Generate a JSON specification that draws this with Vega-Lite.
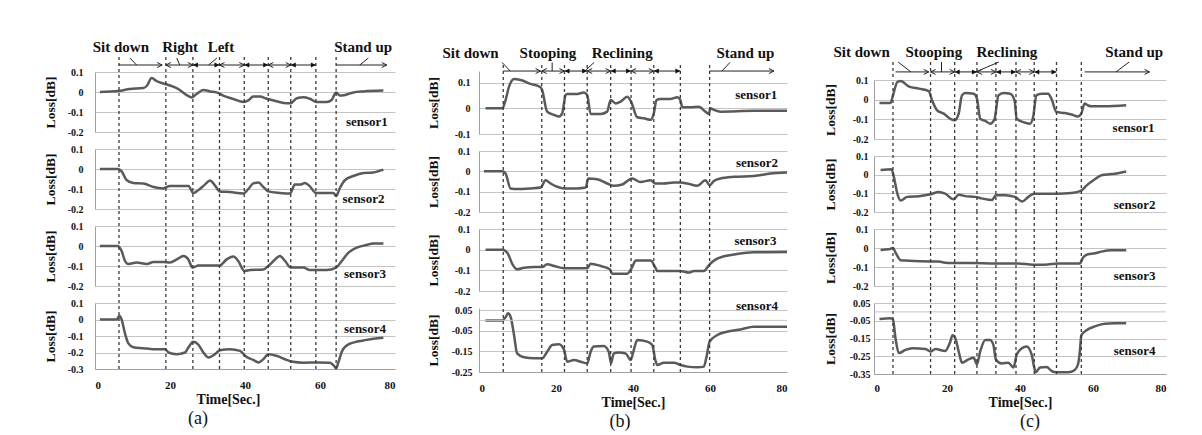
{
"$schema": "https://vega.github.io/schema/vega-lite/v6.json",
"background": "white",
"padding": {"left": 43, "top": 30, "right": 0, "bottom": 0},
"config": {
 "font": "Liberation Serif",
 "view": {"stroke": null},
 "axis": {"labelFont": "Liberation Serif", "labelFontWeight": "bold", "labelFontSize": 10, "labelColor": "#111", "titleFont": "Liberation Serif", "titleFontWeight": "bold", "titleFontSize": 13.5, "titleColor": "#111", "ticks": false, "gridColor": "#c4c4c4", "gridWidth": 1, "gridOpacity": 1, "domainColor": "#a0a0a0", "domainWidth": 1, "labelOverlap": false},
 "axisY": {"grid": true},
 "title": {"font": "Liberation Serif", "color": "#111"}
},
"datasets": {
 "a1": [{"t":1.3,"v":0},{"t":6.2,"v":0.005},{"t":9.3,"v":0.015},{"t":12.9,"v":0.02},{"t":13.8,"v":0.03},{"t":15.1,"v":0.07},{"t":16.4,"v":0.055},{"t":18.7,"v":0.04},{"t":20.4,"v":0.03},{"t":22.2,"v":0.015},{"t":24,"v":-0.01},{"t":25.8,"v":-0.027},{"t":27.1,"v":-0.01},{"t":28.9,"v":0.01},{"t":30.7,"v":0.003},{"t":32.4,"v":-0.002},{"t":34.2,"v":-0.018},{"t":36.9,"v":-0.035},{"t":39.6,"v":-0.05},{"t":40.9,"v":-0.042},{"t":42.2,"v":-0.023},{"t":44,"v":-0.023},{"t":45.8,"v":-0.034},{"t":48.4,"v":-0.046},{"t":51.1,"v":-0.056},{"t":52.2,"v":-0.056},{"t":53.8,"v":-0.031},{"t":55.6,"v":-0.026},{"t":57.3,"v":-0.034},{"t":59.1,"v":-0.05},{"t":61.8,"v":-0.05},{"t":63.1,"v":-0.04},{"t":64.3,"v":-0.002},{"t":65.3,"v":-0.018},{"t":66.7,"v":-0.015},{"t":68.9,"v":-0.002},{"t":71.6,"v":0.003},{"t":76.9,"v":0.007}],
 "a2": [{"t":1.3,"v":0},{"t":6.2,"v":0},{"t":7.1,"v":-0.012},{"t":8.4,"v":-0.055},{"t":10.2,"v":-0.07},{"t":12.9,"v":-0.073},{"t":15.6,"v":-0.09},{"t":18.2,"v":-0.097},{"t":20,"v":-0.085},{"t":22.2,"v":-0.085},{"t":24.9,"v":-0.085},{"t":26.2,"v":-0.12},{"t":27.6,"v":-0.105},{"t":29.3,"v":-0.078},{"t":30.7,"v":-0.057},{"t":32,"v":-0.083},{"t":33.3,"v":-0.112},{"t":36,"v":-0.115},{"t":39.6,"v":-0.122},{"t":40.9,"v":-0.1},{"t":42.2,"v":-0.072},{"t":43.6,"v":-0.068},{"t":44.9,"v":-0.09},{"t":46.2,"v":-0.112},{"t":49.3,"v":-0.12},{"t":52,"v":-0.123},{"t":53.3,"v":-0.078},{"t":54.7,"v":-0.078},{"t":56,"v":-0.07},{"t":57.3,"v":-0.087},{"t":58.9,"v":-0.12},{"t":61.8,"v":-0.12},{"t":63.6,"v":-0.12},{"t":64.3,"v":-0.135},{"t":65.3,"v":-0.095},{"t":66.7,"v":-0.055},{"t":68.9,"v":-0.035},{"t":71.6,"v":-0.02},{"t":74.2,"v":-0.017},{"t":76.9,"v":-0.003}],
 "a3": [{"t":1.3,"v":0},{"t":6,"v":0},{"t":7.1,"v":-0.025},{"t":8,"v":-0.075},{"t":8.9,"v":-0.09},{"t":11.1,"v":-0.083},{"t":13.8,"v":-0.09},{"t":15.6,"v":-0.08},{"t":18.2,"v":-0.08},{"t":20,"v":-0.083},{"t":21.8,"v":-0.067},{"t":23.6,"v":-0.05},{"t":24.9,"v":-0.067},{"t":26,"v":-0.108},{"t":27.6,"v":-0.097},{"t":30.7,"v":-0.097},{"t":33.3,"v":-0.097},{"t":35.1,"v":-0.067},{"t":36.9,"v":-0.053},{"t":38.2,"v":-0.075},{"t":39.8,"v":-0.125},{"t":41.3,"v":-0.12},{"t":44.9,"v":-0.117},{"t":46.2,"v":-0.1},{"t":47.6,"v":-0.075},{"t":49.3,"v":-0.05},{"t":50.7,"v":-0.075},{"t":52.2,"v":-0.108},{"t":55.6,"v":-0.108},{"t":57.3,"v":-0.12},{"t":61.8,"v":-0.12},{"t":64.3,"v":-0.108},{"t":65.8,"v":-0.075},{"t":67.6,"v":-0.033},{"t":69.8,"v":-0.008},{"t":72.4,"v":0.005},{"t":74.2,"v":0.013},{"t":76.9,"v":0.013}],
 "a4": [{"t":1.3,"v":0},{"t":5.8,"v":0},{"t":6.5,"v":0.023},{"t":7.1,"v":0},{"t":8,"v":-0.085},{"t":8.9,"v":-0.145},{"t":10.2,"v":-0.168},{"t":12.9,"v":-0.174},{"t":15.6,"v":-0.18},{"t":18.7,"v":-0.18},{"t":19.6,"v":-0.2},{"t":21.8,"v":-0.21},{"t":24,"v":-0.2},{"t":24.9,"v":-0.17},{"t":26.2,"v":-0.135},{"t":27.6,"v":-0.153},{"t":28.9,"v":-0.2},{"t":30.2,"v":-0.23},{"t":32,"v":-0.21},{"t":33.3,"v":-0.186},{"t":36,"v":-0.18},{"t":38.7,"v":-0.19},{"t":40,"v":-0.22},{"t":42.2,"v":-0.245},{"t":43.6,"v":-0.26},{"t":44.9,"v":-0.24},{"t":46.2,"v":-0.21},{"t":48.4,"v":-0.22},{"t":51.1,"v":-0.245},{"t":52.4,"v":-0.255},{"t":55.6,"v":-0.262},{"t":59.1,"v":-0.26},{"t":62.7,"v":-0.262},{"t":63.7,"v":-0.28},{"t":64.3,"v":-0.295},{"t":64.9,"v":-0.26},{"t":65.8,"v":-0.195},{"t":67.1,"v":-0.157},{"t":69.3,"v":-0.137},{"t":71.6,"v":-0.127},{"t":74.2,"v":-0.116},{"t":76.9,"v":-0.11}],
 "b1": [{"t":1.7,"v":0},{"t":6.1,"v":0},{"t":6.9,"v":0.032},{"t":7.8,"v":0.084},{"t":9.1,"v":0.114},{"t":10.8,"v":0.11},{"t":13.4,"v":0.095},{"t":16,"v":0.082},{"t":16.4,"v":0.071},{"t":17.7,"v":-0.013},{"t":19.5,"v":-0.026},{"t":20.8,"v":-0.032},{"t":21.6,"v":-0.02},{"t":22.5,"v":0.052},{"t":22.9,"v":0.056},{"t":25.5,"v":0.056},{"t":27.2,"v":0.061},{"t":28.1,"v":0.052},{"t":29,"v":-0.022},{"t":31.6,"v":-0.022},{"t":33.3,"v":-0.013},{"t":34.2,"v":0.032},{"t":35.5,"v":0.019},{"t":36.8,"v":0.026},{"t":38.5,"v":0.045},{"t":39.5,"v":0.026},{"t":41.1,"v":-0.035},{"t":42.8,"v":-0.039},{"t":44.6,"v":-0.045},{"t":45.4,"v":-0.02},{"t":46.1,"v":0.032},{"t":47.1,"v":0.036},{"t":49.7,"v":0.036},{"t":51.5,"v":0.043},{"t":52.3,"v":0.032},{"t":52.8,"v":0.004},{"t":54.9,"v":0.004},{"t":57.1,"v":0.006},{"t":58.8,"v":-0.013},{"t":59.7,"v":-0.022},{"t":60.1,"v":0},{"t":61,"v":-0.006},{"t":62.7,"v":-0.013},{"t":71.4,"v":-0.01},{"t":80,"v":-0.01}],
 "b2": [{"t":1.3,"v":0},{"t":6.1,"v":0},{"t":6.9,"v":-0.011},{"t":8.2,"v":-0.084},{"t":9.9,"v":-0.087},{"t":13.4,"v":-0.084},{"t":16,"v":-0.08},{"t":17.3,"v":-0.044},{"t":18.6,"v":-0.06},{"t":20.3,"v":-0.076},{"t":22.1,"v":-0.084},{"t":25.5,"v":-0.084},{"t":27.7,"v":-0.08},{"t":28.4,"v":-0.035},{"t":30.7,"v":-0.039},{"t":33.3,"v":-0.06},{"t":35,"v":-0.071},{"t":37.2,"v":-0.065},{"t":39.8,"v":-0.035},{"t":41.9,"v":-0.052},{"t":44.6,"v":-0.044},{"t":45.8,"v":-0.06},{"t":48,"v":-0.06},{"t":50.6,"v":-0.055},{"t":52.3,"v":-0.055},{"t":54.1,"v":-0.06},{"t":56.7,"v":-0.071},{"t":58.8,"v":-0.044},{"t":59.9,"v":-0.068},{"t":61,"v":-0.048},{"t":62.7,"v":-0.035},{"t":66.2,"v":-0.027},{"t":71.4,"v":-0.023},{"t":75.7,"v":-0.011},{"t":80,"v":-0.006}],
 "b3": [{"t":1.7,"v":0},{"t":6.1,"v":0},{"t":7.4,"v":-0.016},{"t":8.7,"v":-0.071},{"t":9.9,"v":-0.095},{"t":11.7,"v":-0.087},{"t":14.3,"v":-0.084},{"t":16.4,"v":-0.084},{"t":17.7,"v":-0.071},{"t":19.5,"v":-0.079},{"t":22.1,"v":-0.09},{"t":25.5,"v":-0.09},{"t":28.1,"v":-0.09},{"t":29,"v":-0.068},{"t":31.6,"v":-0.079},{"t":34,"v":-0.095},{"t":34.6,"v":-0.116},{"t":38.5,"v":-0.116},{"t":39.8,"v":-0.084},{"t":40.7,"v":-0.052},{"t":44.6,"v":-0.052},{"t":45.8,"v":-0.087},{"t":46.3,"v":-0.103},{"t":49.7,"v":-0.103},{"t":52.3,"v":-0.103},{"t":54.5,"v":-0.111},{"t":55.8,"v":-0.103},{"t":58.4,"v":-0.103},{"t":59.9,"v":-0.071},{"t":61.4,"v":-0.048},{"t":63.6,"v":-0.032},{"t":67,"v":-0.021},{"t":71.4,"v":-0.013},{"t":80,"v":-0.011}],
 "b4": [{"t":1.7,"v":0},{"t":6.1,"v":0},{"t":6.9,"v":0.015},{"t":7.5,"v":0.034},{"t":8.2,"v":0.018},{"t":9.1,"v":-0.071},{"t":9.9,"v":-0.16},{"t":11.7,"v":-0.179},{"t":14.3,"v":-0.184},{"t":16.4,"v":-0.184},{"t":17.7,"v":-0.152},{"t":19,"v":-0.119},{"t":20.8,"v":-0.116},{"t":22.1,"v":-0.144},{"t":22.9,"v":-0.2},{"t":24.7,"v":-0.192},{"t":26.4,"v":-0.2},{"t":28.1,"v":-0.208},{"t":29,"v":-0.152},{"t":29.8,"v":-0.127},{"t":32.4,"v":-0.124},{"t":33.7,"v":-0.152},{"t":34.3,"v":-0.208},{"t":35,"v":-0.16},{"t":36.3,"v":-0.156},{"t":38.1,"v":-0.16},{"t":39.4,"v":-0.192},{"t":40.2,"v":-0.144},{"t":41.1,"v":-0.095},{"t":43.7,"v":-0.103},{"t":45,"v":-0.119},{"t":45.8,"v":-0.192},{"t":46.3,"v":-0.216},{"t":48,"v":-0.205},{"t":50.6,"v":-0.205},{"t":52.3,"v":-0.216},{"t":54.1,"v":-0.224},{"t":56.7,"v":-0.227},{"t":58.4,"v":-0.224},{"t":59.1,"v":-0.176},{"t":59.9,"v":-0.103},{"t":61.9,"v":-0.071},{"t":64.4,"v":-0.055},{"t":67.9,"v":-0.044},{"t":71.4,"v":-0.031},{"t":80,"v":-0.031}],
 "c1": [{"t":1.5,"v":-0.017},{"t":4.5,"v":-0.017},{"t":5.2,"v":0.022},{"t":6.4,"v":0.09},{"t":7.3,"v":0.095},{"t":9.5,"v":0.068},{"t":12.3,"v":0.056},{"t":15,"v":0.044},{"t":15.9,"v":-0.003},{"t":17.3,"v":-0.054},{"t":19.1,"v":-0.071},{"t":20.9,"v":-0.097},{"t":22.1,"v":-0.105},{"t":23.2,"v":-0.071},{"t":24.1,"v":0.022},{"t":25,"v":0.034},{"t":27.3,"v":0.03},{"t":28.2,"v":0.005},{"t":29.1,"v":-0.097},{"t":30.5,"v":-0.108},{"t":31.8,"v":-0.122},{"t":33,"v":-0.1},{"t":34.1,"v":0.022},{"t":35.5,"v":0.034},{"t":37.3,"v":0.03},{"t":38.5,"v":-0.003},{"t":39.1,"v":-0.097},{"t":40.9,"v":-0.114},{"t":42.7,"v":-0.122},{"t":43.6,"v":-0.088},{"t":44.5,"v":0.022},{"t":45.9,"v":0.03},{"t":47.7,"v":0.03},{"t":48.6,"v":0.005},{"t":50,"v":-0.063},{"t":52.3,"v":-0.068},{"t":54.1,"v":-0.075},{"t":55.9,"v":-0.085},{"t":56.8,"v":-0.071},{"t":57.7,"v":-0.02},{"t":58.6,"v":-0.029},{"t":59.5,"v":-0.034},{"t":63.2,"v":-0.034},{"t":69.1,"v":-0.029}],
 "c2": [{"t":1.8,"v":0.025},{"t":4.8,"v":0.029},{"t":5.5,"v":-0.017},{"t":6.4,"v":-0.102},{"t":7.3,"v":-0.139},{"t":9.1,"v":-0.119},{"t":12.3,"v":-0.115},{"t":15.5,"v":-0.105},{"t":17.7,"v":-0.093},{"t":19.5,"v":-0.102},{"t":21.8,"v":-0.132},{"t":23.2,"v":-0.107},{"t":25,"v":-0.115},{"t":27.7,"v":-0.119},{"t":29.5,"v":-0.127},{"t":32.3,"v":-0.136},{"t":33.4,"v":-0.11},{"t":35.9,"v":-0.11},{"t":38.6,"v":-0.119},{"t":40.6,"v":-0.144},{"t":42.3,"v":-0.119},{"t":43.9,"v":-0.102},{"t":46.8,"v":-0.102},{"t":50,"v":-0.102},{"t":54.1,"v":-0.098},{"t":56.8,"v":-0.085},{"t":58.2,"v":-0.059},{"t":60.5,"v":-0.025},{"t":62.3,"v":-0.003},{"t":65,"v":0.003},{"t":66.8,"v":0.008},{"t":69.1,"v":0.017}],
 "c3": [{"t":1.8,"v":-0.01},{"t":4.1,"v":-0.007},{"t":5.2,"v":0},{"t":5.9,"v":-0.024},{"t":7.3,"v":-0.064},{"t":9.5,"v":-0.067},{"t":15.5,"v":-0.071},{"t":17.7,"v":-0.071},{"t":19.1,"v":-0.076},{"t":21.4,"v":-0.079},{"t":26.8,"v":-0.079},{"t":33.2,"v":-0.081},{"t":39.5,"v":-0.081},{"t":43.6,"v":-0.088},{"t":46.8,"v":-0.088},{"t":50.5,"v":-0.081},{"t":54.1,"v":-0.081},{"t":56.4,"v":-0.081},{"t":57.3,"v":-0.05},{"t":58.6,"v":-0.033},{"t":60.5,"v":-0.028},{"t":62.3,"v":-0.019},{"t":65,"v":-0.012},{"t":69.1,"v":-0.012}],
 "c4": [{"t":1.5,"v":-0.04},{"t":4.5,"v":-0.036},{"t":5.2,"v":-0.044},{"t":5.9,"v":-0.15},{"t":6.8,"v":-0.232},{"t":8.6,"v":-0.214},{"t":10.5,"v":-0.205},{"t":14.1,"v":-0.209},{"t":15.5,"v":-0.223},{"t":16.8,"v":-0.209},{"t":19.5,"v":-0.22},{"t":20.9,"v":-0.168},{"t":21.5,"v":-0.132},{"t":22.3,"v":-0.15},{"t":23.2,"v":-0.223},{"t":24.1,"v":-0.286},{"t":25.9,"v":-0.268},{"t":27.3,"v":-0.259},{"t":28.2,"v":-0.295},{"t":29.1,"v":-0.223},{"t":30.5,"v":-0.159},{"t":31.8,"v":-0.159},{"t":32.7,"v":-0.186},{"t":33.4,"v":-0.268},{"t":35,"v":-0.291},{"t":36.8,"v":-0.286},{"t":38.2,"v":-0.313},{"t":39.1,"v":-0.241},{"t":40.5,"v":-0.205},{"t":41.8,"v":-0.195},{"t":43.2,"v":-0.241},{"t":43.9,"v":-0.313},{"t":44.3,"v":-0.34},{"t":45.5,"v":-0.313},{"t":47.3,"v":-0.31},{"t":48.6,"v":-0.332},{"t":50,"v":-0.34},{"t":53.2,"v":-0.34},{"t":55,"v":-0.327},{"t":55.9,"v":-0.295},{"t":56.4,"v":-0.223},{"t":56.8,"v":-0.132},{"t":58.2,"v":-0.104},{"t":60.5,"v":-0.082},{"t":63.2,"v":-0.067},{"t":65.9,"v":-0.064},{"t":69.1,"v":-0.064}],
 "ev_a": [{"t":6.4},{"t":18.9},{"t":26.1},{"t":33.2},{"t":39.8},{"t":46.2},{"t":52.2},{"t":58.9},{"t":64.3}],
 "ev_b": [{"t":6.3},{"t":16.3},{"t":22.2},{"t":28.1},{"t":34.2},{"t":39.5},{"t":45.4},{"t":52.3},{"t":59.9}],
 "ev_c": [{"t":5.2},{"t":15.5},{"t":22.1},{"t":28.2},{"t":33.4},{"t":38.9},{"t":43.9},{"t":50},{"t":56.8}],
 "ar_a": [{"t1":6.4,"t2":17.9,"k":"s"},{"t1":18.9,"t2":26.1,"k":"o"},{"t1":26.1,"t2":33.2,"k":"f"},{"t1":33.2,"t2":39.8,"k":"o"},{"t1":39.8,"t2":46.2,"k":"f"},{"t1":46.2,"t2":52.2,"k":"o"},{"t1":52.2,"t2":58.9,"k":"f"},{"t1":64.3,"t2":77.8,"k":"s"}],
 "ar_b": [{"t1":6.3,"t2":16,"k":"s"},{"t1":16.3,"t2":22.2,"k":"o"},{"t1":22.2,"t2":28.1,"k":"f"},{"t1":28.1,"t2":34.2,"k":"o"},{"t1":34.2,"t2":39.5,"k":"f"},{"t1":39.5,"t2":45.4,"k":"o"},{"t1":45.4,"t2":52.3,"k":"f"},{"t1":59.9,"t2":76.6,"k":"s"}],
 "ar_c": [{"t1":5.9,"t2":15,"k":"s"},{"t1":15.5,"t2":22.1,"k":"o"},{"t1":22.1,"t2":28.2,"k":"f"},{"t1":28.2,"t2":33.4,"k":"o"},{"t1":33.4,"t2":38.9,"k":"f"},{"t1":38.9,"t2":43.9,"k":"o"},{"t1":43.9,"t2":50,"k":"f"},{"t1":57.7,"t2":75.5,"k":"s"}],
 "ld_a": [{"t1":9.3,"t2":11.1},{"t1":21.8,"t2":22.6},{"t1":32.5,"t2":30.3},{"t1":72.9,"t2":70.6}],
 "ld_b": [{"t1":6.0,"t2":8.1},{"t1":19,"t2":19},{"t1":29.9,"t2":27.5},{"t1":65.2,"t2":63.1}],
 "ld_c": [{"t1":6.6,"t2":10.1},{"t1":18.5,"t2":18.5},{"t1":34.2,"t2":27.9},{"t1":69.9,"t2":66.3}],
 "lb_a": [{"t":6.9,"label":"Sit down"},{"t":22.7,"label":"Right"},{"t":33.6,"label":"Left"},{"t":71.5,"label":"Stand up"}],
 "lb_b": [{"t":-2.2,"label":"Sit down"},{"t":17.9,"label":"Stooping"},{"t":37.2,"label":"Reclining"},{"t":69.2,"label":"Stand up"}],
 "lb_c": [{"t":-3.4,"label":"Sit down"},{"t":16.4,"label":"Stooping"},{"t":36.4,"label":"Reclining"},{"t":71.3,"label":"Stand up"}]
},
"spacing": 31,
"resolve": {"scale": {"x": "independent", "y": "independent"}},
"hconcat": [
 {"spacing": 17, "bounds": "flush", "resolve": {"scale": {"x": "independent", "y": "independent"}},
  "vconcat": [
   {"width": 300, "height": 25,
    "layer": [
     {"data": {"name": "ev_a"}, "mark": {"type": "rule", "color": "#3a3a3a", "strokeWidth": 1.3, "strokeDash": [3, 3]},
      "encoding": {"x": {"field": "t", "type": "quantitative", "scale": {"domain": [0, 80], "nice": false}, "axis": null}, "y": {"datum": -0.08, "type": "quantitative", "scale": {"domain": [0, 1], "nice": false, "zero": false}, "axis": null}, "y2": {"datum": -0.68}}},
     {"data": {"name": "ar_a"}, "mark": {"type": "rule", "color": "#222", "strokeWidth": 1},
      "encoding": {"x": {"field": "t1", "type": "quantitative"}, "x2": {"field": "t2"}, "y": {"datum": -0.4, "type": "quantitative"}}},
     {"data": {"name": "ar_a"}, "transform": [{"filter": "datum.k != 'f'"}], "mark": {"type": "point", "shape": "M-2,-1L0,0L-2,1", "filled": false, "size": 25, "strokeWidth": 1, "color": "#222", "opacity": 1},
      "encoding": {"x": {"field": "t2", "type": "quantitative"}, "y": {"datum": -0.4, "type": "quantitative"}}},
     {"data": {"name": "ar_a"}, "transform": [{"filter": "datum.k == 'o'"}], "mark": {"type": "point", "shape": "M2,-1L0,0L2,1", "filled": false, "size": 25, "strokeWidth": 1, "color": "#222", "opacity": 1},
      "encoding": {"x": {"field": "t1", "type": "quantitative"}, "y": {"datum": -0.4, "type": "quantitative"}}},
     {"data": {"name": "ar_a"}, "transform": [{"filter": "datum.k == 'f'"}], "mark": {"type": "point", "shape": "M-2,-1L0,0L-2,1Z", "filled": true, "size": 25, "color": "#111", "opacity": 1},
      "encoding": {"x": {"field": "t2", "type": "quantitative"}, "y": {"datum": -0.4, "type": "quantitative"}}},
     {"data": {"name": "ar_a"}, "transform": [{"filter": "datum.k == 'f'"}], "mark": {"type": "point", "shape": "M2,-1L0,0L2,1Z", "filled": true, "size": 25, "color": "#111", "opacity": 1},
      "encoding": {"x": {"field": "t1", "type": "quantitative"}, "y": {"datum": -0.4, "type": "quantitative"}}},
     {"data": {"name": "ld_a"}, "mark": {"type": "rule", "color": "#222", "strokeWidth": 1},
      "encoding": {"x": {"field": "t1", "type": "quantitative"}, "x2": {"field": "t2"}, "y": {"datum": -0.12, "type": "quantitative"}, "y2": {"datum": -0.4}}},
     {"data": {"name": "lb_a"}, "mark": {"type": "text", "font": "Liberation Serif", "fontWeight": "bold", "fontSize": 15, "color": "#111"},
      "encoding": {"x": {"field": "t", "type": "quantitative"}, "y": {"datum": 0.32, "type": "quantitative"}, "text": {"field": "label"}}}
    ]},
   {"width": 300, "height": 60, "layer": [
    {"data": {"name": "a1"}, "mark": {"type": "line", "color": "#5a5a5a", "strokeWidth": 2.5, "interpolate": "monotone"}, "encoding": {"x": {"field": "t", "type": "quantitative", "scale": {"domain": [0, 80], "nice": false}, "axis": null}, "y": {"field": "v", "type": "quantitative", "scale": {"domain": [-0.2, 0.1], "nice": false, "zero": false}, "axis": {"values": [-0.2, -0.1, 0, 0.1], "tickCount": 20, "title": "Loss[dB]", "titleX": -38, "labelPadding": 12, "grid": true, "labelExpr": "replace(format(datum.value,'~g'),'\u2212','-')"}}}},
    {"data": {"name": "ev_a"}, "mark": {"type": "rule", "color": "#3a3a3a", "strokeWidth": 1.3, "strokeDash": [3, 3]}, "encoding": {"x": {"field": "t", "type": "quantitative"}, "y": {"datum": -0.2, "type": "quantitative"}, "y2": {"datum": 0.1}}},
    {"data": {"values": [{}]}, "mark": {"type": "text", "font": "Liberation Serif", "fontWeight": "bold", "fontSize": 13, "color": "#111"}, "encoding": {"x": {"datum": 72.5, "type": "quantitative"}, "y": {"datum": -0.15, "type": "quantitative"}, "text": {"value": "sensor1"}}}
   ]},
   {"width": 300, "height": 60, "layer": [
    {"data": {"name": "a2"}, "mark": {"type": "line", "color": "#5a5a5a", "strokeWidth": 2.5, "interpolate": "monotone"}, "encoding": {"x": {"field": "t", "type": "quantitative", "scale": {"domain": [0, 80], "nice": false}, "axis": null}, "y": {"field": "v", "type": "quantitative", "scale": {"domain": [-0.2, 0.1], "nice": false, "zero": false}, "axis": {"values": [-0.2, -0.1, 0, 0.1], "tickCount": 20, "title": "Loss[dB]", "titleX": -38, "labelPadding": 12, "grid": true, "labelExpr": "replace(format(datum.value,'~g'),'\u2212','-')"}}}},
    {"data": {"name": "ev_a"}, "mark": {"type": "rule", "color": "#3a3a3a", "strokeWidth": 1.3, "strokeDash": [3, 3]}, "encoding": {"x": {"field": "t", "type": "quantitative"}, "y": {"datum": -0.2, "type": "quantitative"}, "y2": {"datum": 0.185}}},
    {"data": {"values": [{}]}, "mark": {"type": "text", "font": "Liberation Serif", "fontWeight": "bold", "fontSize": 13, "color": "#111"}, "encoding": {"x": {"datum": 71.6, "type": "quantitative"}, "y": {"datum": -0.15, "type": "quantitative"}, "text": {"value": "sensor2"}}}
   ]},
   {"width": 300, "height": 60, "layer": [
    {"data": {"name": "a3"}, "mark": {"type": "line", "color": "#5a5a5a", "strokeWidth": 2.5, "interpolate": "monotone"}, "encoding": {"x": {"field": "t", "type": "quantitative", "scale": {"domain": [0, 80], "nice": false}, "axis": null}, "y": {"field": "v", "type": "quantitative", "scale": {"domain": [-0.2, 0.1], "nice": false, "zero": false}, "axis": {"values": [-0.2, -0.1, 0, 0.1], "tickCount": 20, "title": "Loss[dB]", "titleX": -38, "labelPadding": 12, "grid": true, "labelExpr": "replace(format(datum.value,'~g'),'\u2212','-')"}}}},
    {"data": {"name": "ev_a"}, "mark": {"type": "rule", "color": "#3a3a3a", "strokeWidth": 1.3, "strokeDash": [3, 3]}, "encoding": {"x": {"field": "t", "type": "quantitative"}, "y": {"datum": -0.2, "type": "quantitative"}, "y2": {"datum": 0.185}}},
    {"data": {"values": [{}]}, "mark": {"type": "text", "font": "Liberation Serif", "fontWeight": "bold", "fontSize": 13, "color": "#111"}, "encoding": {"x": {"datum": 72, "type": "quantitative"}, "y": {"datum": -0.14, "type": "quantitative"}, "text": {"value": "sensor3"}}}
   ]},
   {"width": 300, "height": 66,
    "title": {"text": "(a)", "orient": "bottom", "fontSize": 18, "fontWeight": "normal", "offset": 4, "dx": -47},
    "layer": [
    {"data": {"name": "a4"}, "mark": {"type": "line", "color": "#5a5a5a", "strokeWidth": 2.5, "interpolate": "monotone"}, "encoding": {"x": {"field": "t", "type": "quantitative", "scale": {"domain": [0, 80], "nice": false}, "axis": {"values": [0, 20, 40, 60, 80], "title": "Time[Sec.]", "titleX": 133, "labelFontSize": 11, "labelPadding": 10, "titlePadding": 2, "titleFontSize": 14, "grid": false}}, "y": {"field": "v", "type": "quantitative", "scale": {"domain": [-0.3, 0.1], "nice": false, "zero": false}, "axis": {"values": [-0.3, -0.2, -0.1, 0, 0.1], "tickCount": 20, "title": "Loss[dB]", "titleX": -38, "labelPadding": 12, "grid": true, "labelExpr": "replace(format(datum.value,'~g'),'\u2212','-')"}}}},
    {"data": {"name": "ev_a"}, "mark": {"type": "rule", "color": "#3a3a3a", "strokeWidth": 1.3, "strokeDash": [3, 3]}, "encoding": {"x": {"field": "t", "type": "quantitative"}, "y": {"datum": -0.3, "type": "quantitative"}, "y2": {"datum": 0.203}}},
    {"data": {"values": [{}]}, "mark": {"type": "text", "font": "Liberation Serif", "fontWeight": "bold", "fontSize": 13, "color": "#111"}, "encoding": {"x": {"datum": 72, "type": "quantitative"}, "y": {"datum": -0.055, "type": "quantitative"}, "text": {"value": "sensor4"}}}
   ]}
  ]},
 {"spacing": 17, "bounds": "flush", "resolve": {"scale": {"x": "independent", "y": "independent"}},
  "vconcat": [
   {"width": 308, "height": 24,
    "layer": [
     {"data": {"name": "ev_b"}, "mark": {"type": "rule", "color": "#3a3a3a", "strokeWidth": 1.3, "strokeDash": [3, 3]},
      "encoding": {"x": {"field": "t", "type": "quantitative", "scale": {"domain": [0, 80], "nice": false}, "axis": null}, "y": {"datum": -0.46, "type": "quantitative", "scale": {"domain": [0, 1], "nice": false, "zero": false}, "axis": null}, "y2": {"datum": -0.71}}},
     {"data": {"name": "ar_b"}, "mark": {"type": "rule", "color": "#222", "strokeWidth": 1},
      "encoding": {"x": {"field": "t1", "type": "quantitative"}, "x2": {"field": "t2"}, "y": {"datum": -0.71, "type": "quantitative"}}},
     {"data": {"name": "ar_b"}, "transform": [{"filter": "datum.k != 'f'"}], "mark": {"type": "point", "shape": "M-2,-1L0,0L-2,1", "filled": false, "size": 25, "strokeWidth": 1, "color": "#222", "opacity": 1},
      "encoding": {"x": {"field": "t2", "type": "quantitative"}, "y": {"datum": -0.71, "type": "quantitative"}}},
     {"data": {"name": "ar_b"}, "transform": [{"filter": "datum.k == 'o'"}], "mark": {"type": "point", "shape": "M2,-1L0,0L2,1", "filled": false, "size": 25, "strokeWidth": 1, "color": "#222", "opacity": 1},
      "encoding": {"x": {"field": "t1", "type": "quantitative"}, "y": {"datum": -0.71, "type": "quantitative"}}},
     {"data": {"name": "ar_b"}, "transform": [{"filter": "datum.k == 'f'"}], "mark": {"type": "point", "shape": "M-2,-1L0,0L-2,1Z", "filled": true, "size": 25, "color": "#111", "opacity": 1},
      "encoding": {"x": {"field": "t2", "type": "quantitative"}, "y": {"datum": -0.71, "type": "quantitative"}}},
     {"data": {"name": "ar_b"}, "transform": [{"filter": "datum.k == 'f'"}], "mark": {"type": "point", "shape": "M2,-1L0,0L2,1Z", "filled": true, "size": 25, "color": "#111", "opacity": 1},
      "encoding": {"x": {"field": "t1", "type": "quantitative"}, "y": {"datum": -0.71, "type": "quantitative"}}},
     {"data": {"name": "ld_b"}, "mark": {"type": "rule", "color": "#222", "strokeWidth": 1},
      "encoding": {"x": {"field": "t1", "type": "quantitative"}, "x2": {"field": "t2"}, "y": {"datum": -0.35, "type": "quantitative"}, "y2": {"datum": -0.71}}},
     {"data": {"name": "lb_b"}, "mark": {"type": "text", "font": "Liberation Serif", "fontWeight": "bold", "fontSize": 15, "color": "#111"},
      "encoding": {"x": {"field": "t", "type": "quantitative"}, "y": {"datum": 0.04, "type": "quantitative"}, "text": {"field": "label"}}}
    ]},
   {"width": 308, "height": 63, "layer": [
    {"data": {"name": "b1"}, "mark": {"type": "line", "color": "#5a5a5a", "strokeWidth": 2.5, "interpolate": "monotone"}, "encoding": {"x": {"field": "t", "type": "quantitative", "scale": {"domain": [0, 80], "nice": false}, "axis": null}, "y": {"field": "v", "type": "quantitative", "scale": {"domain": [-0.1, 0.145], "nice": false, "zero": false}, "axis": {"values": [-0.1, 0, 0.1], "tickCount": 20, "title": "Loss[dB]", "titleX": -39, "labelPadding": 9, "grid": true, "labelExpr": "replace(format(datum.value,'~g'),'\u2212','-')"}}}},
    {"data": {"name": "ev_b"}, "mark": {"type": "rule", "color": "#3a3a3a", "strokeWidth": 1.3, "strokeDash": [3, 3]}, "encoding": {"x": {"field": "t", "type": "quantitative"}, "y": {"datum": -0.1, "type": "quantitative"}, "y2": {"datum": 0.145}}},
    {"data": {"values": [{}]}, "mark": {"type": "text", "font": "Liberation Serif", "fontWeight": "bold", "fontSize": 13, "color": "#111"}, "encoding": {"x": {"datum": 72, "type": "quantitative"}, "y": {"datum": 0.05, "type": "quantitative"}, "text": {"value": "sensor1"}}}
   ]},
   {"width": 308, "height": 61, "layer": [
    {"data": {"name": "b2"}, "mark": {"type": "line", "color": "#5a5a5a", "strokeWidth": 2.5, "interpolate": "monotone"}, "encoding": {"x": {"field": "t", "type": "quantitative", "scale": {"domain": [0, 80], "nice": false}, "axis": null}, "y": {"field": "v", "type": "quantitative", "scale": {"domain": [-0.2, 0.1], "nice": false, "zero": false}, "axis": {"values": [-0.2, -0.1, 0, 0.1], "tickCount": 20, "title": "Loss[dB]", "titleX": -39, "labelPadding": 9, "grid": true, "labelExpr": "replace(format(datum.value,'~g'),'\u2212','-')"}}}},
    {"data": {"name": "ev_b"}, "mark": {"type": "rule", "color": "#3a3a3a", "strokeWidth": 1.3, "strokeDash": [3, 3]}, "encoding": {"x": {"field": "t", "type": "quantitative"}, "y": {"datum": -0.2, "type": "quantitative"}, "y2": {"datum": 0.184}}},
    {"data": {"values": [{}]}, "mark": {"type": "text", "font": "Liberation Serif", "fontWeight": "bold", "fontSize": 13, "color": "#111"}, "encoding": {"x": {"datum": 72.2, "type": "quantitative"}, "y": {"datum": 0.043, "type": "quantitative"}, "text": {"value": "sensor2"}}}
   ]},
   {"width": 308, "height": 62, "layer": [
    {"data": {"name": "b3"}, "mark": {"type": "line", "color": "#5a5a5a", "strokeWidth": 2.5, "interpolate": "monotone"}, "encoding": {"x": {"field": "t", "type": "quantitative", "scale": {"domain": [0, 80], "nice": false}, "axis": null}, "y": {"field": "v", "type": "quantitative", "scale": {"domain": [-0.2, 0.1], "nice": false, "zero": false}, "axis": {"values": [-0.2, -0.1, 0, 0.1], "tickCount": 20, "title": "Loss[dB]", "titleX": -39, "labelPadding": 9, "grid": true, "labelExpr": "replace(format(datum.value,'~g'),'\u2212','-')"}}}},
    {"data": {"name": "ev_b"}, "mark": {"type": "rule", "color": "#3a3a3a", "strokeWidth": 1.3, "strokeDash": [3, 3]}, "encoding": {"x": {"field": "t", "type": "quantitative"}, "y": {"datum": -0.2, "type": "quantitative"}, "y2": {"datum": 0.182}}},
    {"data": {"values": [{}]}, "mark": {"type": "text", "font": "Liberation Serif", "fontWeight": "bold", "fontSize": 13, "color": "#111"}, "encoding": {"x": {"datum": 71.8, "type": "quantitative"}, "y": {"datum": 0.043, "type": "quantitative"}, "text": {"value": "sensor3"}}}
   ]},
   {"width": 308, "height": 64,
    "title": {"text": "(b)", "orient": "bottom", "fontSize": 18, "fontWeight": "normal", "offset": 4, "dx": -13},
    "layer": [
    {"data": {"name": "b4"}, "mark": {"type": "line", "color": "#5a5a5a", "strokeWidth": 2.5, "interpolate": "monotone"}, "encoding": {"x": {"field": "t", "type": "quantitative", "scale": {"domain": [0, 80], "nice": false}, "axis": {"values": [0, 20, 40, 60, 80], "title": "Time[Sec.]", "labelFontSize": 11, "labelPadding": 10, "titlePadding": 2, "titleFontSize": 14, "grid": false}}, "y": {"field": "v", "type": "quantitative", "scale": {"domain": [-0.25, 0.06], "nice": false, "zero": false}, "axis": {"values": [-0.25, -0.15, -0.05, 0.05], "tickCount": 20, "title": "Loss[dB]", "titleX": -39, "labelPadding": 7, "grid": true, "labelExpr": "replace(format(datum.value,'~g'),'\u2212','-')"}}}},
    {"data": {"values": [{}]}, "mark": {"type": "rule", "color": "#c4c4c4", "strokeWidth": 1}, "encoding": {"y": {"datum": 0, "type": "quantitative"}}},
    {"data": {"name": "ev_b"}, "mark": {"type": "rule", "color": "#3a3a3a", "strokeWidth": 1.3, "strokeDash": [3, 3]}, "encoding": {"x": {"field": "t", "type": "quantitative"}, "y": {"datum": -0.25, "type": "quantitative"}, "y2": {"datum": 0.142}}},
    {"data": {"values": [{}]}, "mark": {"type": "text", "font": "Liberation Serif", "fontWeight": "bold", "fontSize": 13, "color": "#111"}, "encoding": {"x": {"datum": 72.2, "type": "quantitative"}, "y": {"datum": 0.068, "type": "quantitative"}, "text": {"value": "sensor4"}}}
   ]}
  ]},
 {"spacing": 17, "bounds": "flush", "resolve": {"scale": {"x": "independent", "y": "independent"}},
  "vconcat": [
   {"width": 292, "height": 33,
    "layer": [
     {"data": {"name": "ev_c"}, "mark": {"type": "rule", "color": "#3a3a3a", "strokeWidth": 1.3, "strokeDash": [3, 3]},
      "encoding": {"x": {"field": "t", "type": "quantitative", "scale": {"domain": [0, 80], "nice": false}, "axis": null}, "y": {"datum": 0.03, "type": "quantitative", "scale": {"domain": [0, 1], "nice": false, "zero": false}, "axis": null}, "y2": {"datum": -0.52}}},
     {"data": {"name": "ar_c"}, "mark": {"type": "rule", "color": "#222", "strokeWidth": 1},
      "encoding": {"x": {"field": "t1", "type": "quantitative"}, "x2": {"field": "t2"}, "y": {"datum": -0.27, "type": "quantitative"}}},
     {"data": {"name": "ar_c"}, "transform": [{"filter": "datum.k != 'f'"}], "mark": {"type": "point", "shape": "M-2,-1L0,0L-2,1", "filled": false, "size": 25, "strokeWidth": 1, "color": "#222", "opacity": 1},
      "encoding": {"x": {"field": "t2", "type": "quantitative"}, "y": {"datum": -0.27, "type": "quantitative"}}},
     {"data": {"name": "ar_c"}, "transform": [{"filter": "datum.k == 'o'"}], "mark": {"type": "point", "shape": "M2,-1L0,0L2,1", "filled": false, "size": 25, "strokeWidth": 1, "color": "#222", "opacity": 1},
      "encoding": {"x": {"field": "t1", "type": "quantitative"}, "y": {"datum": -0.27, "type": "quantitative"}}},
     {"data": {"name": "ar_c"}, "transform": [{"filter": "datum.k == 'f'"}], "mark": {"type": "point", "shape": "M-2,-1L0,0L-2,1Z", "filled": true, "size": 25, "color": "#111", "opacity": 1},
      "encoding": {"x": {"field": "t2", "type": "quantitative"}, "y": {"datum": -0.27, "type": "quantitative"}}},
     {"data": {"name": "ar_c"}, "transform": [{"filter": "datum.k == 'f'"}], "mark": {"type": "point", "shape": "M2,-1L0,0L2,1Z", "filled": true, "size": 25, "color": "#111", "opacity": 1},
      "encoding": {"x": {"field": "t1", "type": "quantitative"}, "y": {"datum": -0.27, "type": "quantitative"}}},
     {"data": {"name": "ld_c"}, "mark": {"type": "rule", "color": "#222", "strokeWidth": 1},
      "encoding": {"x": {"field": "t1", "type": "quantitative"}, "x2": {"field": "t2"}, "y": {"datum": 0.03, "type": "quantitative"}, "y2": {"datum": -0.27}}},
     {"data": {"name": "lb_c"}, "mark": {"type": "text", "font": "Liberation Serif", "fontWeight": "bold", "fontSize": 15, "color": "#111"},
      "encoding": {"x": {"field": "t", "type": "quantitative"}, "y": {"datum": 0.33, "type": "quantitative"}, "text": {"field": "label"}}}
    ]},
   {"width": 292, "height": 59, "layer": [
    {"data": {"name": "c1"}, "mark": {"type": "line", "color": "#5a5a5a", "strokeWidth": 2.5, "interpolate": "monotone"}, "encoding": {"x": {"field": "t", "type": "quantitative", "scale": {"domain": [0, 80], "nice": false}, "axis": null}, "y": {"field": "v", "type": "quantitative", "scale": {"domain": [-0.2, 0.1], "nice": false, "zero": false}, "axis": {"values": [-0.2, -0.1, 0, 0.1], "tickCount": 20, "title": "Loss[dB]", "titleX": -37, "labelPadding": 6, "grid": true, "labelExpr": "replace(format(datum.value,'~g'),'\u2212','-')"}}}},
    {"data": {"name": "ev_c"}, "mark": {"type": "rule", "color": "#3a3a3a", "strokeWidth": 1.3, "strokeDash": [3, 3]}, "encoding": {"x": {"field": "t", "type": "quantitative"}, "y": {"datum": -0.2, "type": "quantitative"}, "y2": {"datum": 0.1}}},
    {"data": {"values": [{}]}, "mark": {"type": "text", "font": "Liberation Serif", "fontWeight": "bold", "fontSize": 13, "color": "#111"}, "encoding": {"x": {"datum": 71.1, "type": "quantitative"}, "y": {"datum": -0.145, "type": "quantitative"}, "text": {"value": "sensor1"}}}
   ]},
   {"width": 292, "height": 56, "layer": [
    {"data": {"name": "c2"}, "mark": {"type": "line", "color": "#5a5a5a", "strokeWidth": 2.5, "interpolate": "monotone"}, "encoding": {"x": {"field": "t", "type": "quantitative", "scale": {"domain": [0, 80], "nice": false}, "axis": null}, "y": {"field": "v", "type": "quantitative", "scale": {"domain": [-0.2, 0.1], "nice": false, "zero": false}, "axis": {"values": [-0.2, -0.1, 0, 0.1], "tickCount": 20, "title": "Loss[dB]", "titleX": -37, "labelPadding": 6, "grid": true, "labelExpr": "replace(format(datum.value,'~g'),'\u2212','-')"}}}},
    {"data": {"name": "ev_c"}, "mark": {"type": "rule", "color": "#3a3a3a", "strokeWidth": 1.3, "strokeDash": [3, 3]}, "encoding": {"x": {"field": "t", "type": "quantitative"}, "y": {"datum": -0.2, "type": "quantitative"}, "y2": {"datum": 0.191}}},
    {"data": {"values": [{}]}, "mark": {"type": "text", "font": "Liberation Serif", "fontWeight": "bold", "fontSize": 13, "color": "#111"}, "encoding": {"x": {"datum": 71.4, "type": "quantitative"}, "y": {"datum": -0.16, "type": "quantitative"}, "text": {"value": "sensor2"}}}
   ]},
   {"width": 292, "height": 57, "layer": [
    {"data": {"name": "c3"}, "mark": {"type": "line", "color": "#5a5a5a", "strokeWidth": 2.5, "interpolate": "monotone"}, "encoding": {"x": {"field": "t", "type": "quantitative", "scale": {"domain": [0, 80], "nice": false}, "axis": null}, "y": {"field": "v", "type": "quantitative", "scale": {"domain": [-0.2, 0.1], "nice": false, "zero": false}, "axis": {"values": [-0.2, -0.1, 0, 0.1], "tickCount": 20, "title": "Loss[dB]", "titleX": -37, "labelPadding": 6, "grid": true, "labelExpr": "replace(format(datum.value,'~g'),'\u2212','-')"}}}},
    {"data": {"name": "ev_c"}, "mark": {"type": "rule", "color": "#3a3a3a", "strokeWidth": 1.3, "strokeDash": [3, 3]}, "encoding": {"x": {"field": "t", "type": "quantitative"}, "y": {"datum": -0.2, "type": "quantitative"}, "y2": {"datum": 0.189}}},
    {"data": {"values": [{}]}, "mark": {"type": "text", "font": "Liberation Serif", "fontWeight": "bold", "fontSize": 13, "color": "#111"}, "encoding": {"x": {"datum": 71.4, "type": "quantitative"}, "y": {"datum": -0.145, "type": "quantitative"}, "text": {"value": "sensor3"}}}
   ]},
   {"width": 292, "height": 71,
    "title": {"text": "(c)", "orient": "bottom", "fontSize": 18, "fontWeight": "normal", "offset": 4, "dx": 10},
    "layer": [
    {"data": {"name": "c4"}, "mark": {"type": "line", "color": "#5a5a5a", "strokeWidth": 2.5, "interpolate": "monotone"}, "encoding": {"x": {"field": "t", "type": "quantitative", "scale": {"domain": [0, 80], "nice": false}, "axis": {"values": [0, 20, 40, 60, 80], "title": "Time[Sec.]", "labelFontSize": 11, "labelPadding": 8, "titlePadding": 2, "titleFontSize": 14, "grid": false}}, "y": {"field": "v", "type": "quantitative", "scale": {"domain": [-0.35, 0.05], "nice": false, "zero": false}, "axis": {"values": [-0.35, -0.25, -0.15, -0.05, 0.05], "tickCount": 20, "title": "Loss[dB]", "titleX": -37, "labelPadding": 4, "grid": true, "labelExpr": "replace(format(datum.value,'~g'),'\u2212','-')"}}}},
    {"data": {"values": [{}]}, "mark": {"type": "rule", "color": "#c4c4c4", "strokeWidth": 1}, "encoding": {"y": {"datum": 0, "type": "quantitative"}}},
    {"data": {"name": "ev_c"}, "mark": {"type": "rule", "color": "#3a3a3a", "strokeWidth": 1.3, "strokeDash": [3, 3]}, "encoding": {"x": {"field": "t", "type": "quantitative"}, "y": {"datum": -0.35, "type": "quantitative"}, "y2": {"datum": 0.146}}},
    {"data": {"values": [{}]}, "mark": {"type": "text", "font": "Liberation Serif", "fontWeight": "bold", "fontSize": 13, "color": "#111"}, "encoding": {"x": {"datum": 71.4, "type": "quantitative"}, "y": {"datum": -0.22, "type": "quantitative"}, "text": {"value": "sensor4"}}}
   ]}
  ]}
]
}
